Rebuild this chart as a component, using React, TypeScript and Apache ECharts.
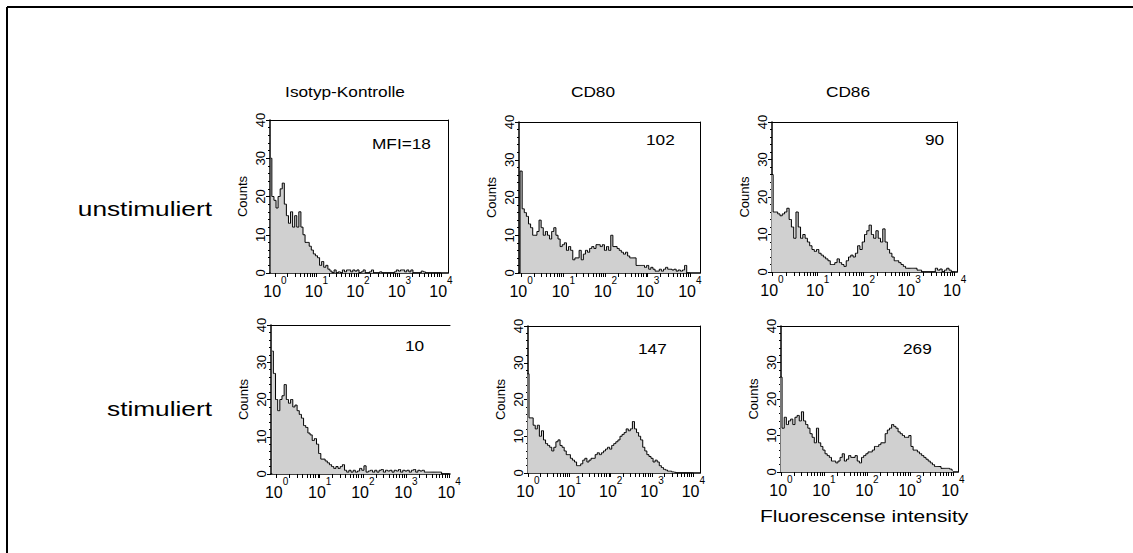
import React, { useEffect, useRef } from 'react';
import * as echarts from 'echarts';

// channel layout: log10 intensity of first bin and bin width (decades)
const binStart = -0.1;
const binStep = 0.05;

// Counts per channel (first value at log10 = -0.1)
const isoUnstim = [
  30, 20, 19, 17, 20, 22, 23.5, 18, 15, 13, 16, 12, 15, 12, 16, 12, 10, 8, 8, 7,
  6, 5, 4.5, 4, 2, 3, 1.5, 2, 1, 0.5, 0, 0.8, 0, 0.3, 0, 0.8, 0.3, 0.8, 0.8, 0.3,
  0.8, 0.5, 0.8, 0, 0.3, 0.8, 0, 0, 0.3, 0.8, 0, 0, 0, 0.3, 0, 0, 0, 0, 0, 0,
  0.3, 0.8, 0.5, 0.8, 0.8, 0.3, 0.8, 0.3, 0.8, 0, 0, 0, 0, 0.5, 0.3, 0, 0, 0, 0, 0,
  0, 0, 0,
];
const cd80Unstim = [
  0, 0, 27, 17, 16, 15, 13, 12, 10, 10, 11, 14, 12, 10, 11, 10, 9, 11, 12, 10,
  9, 7, 7.5, 8, 6, 7, 6, 3.5, 4, 4, 6, 3.5, 5, 6, 5.5, 6.5, 7, 6.5, 7.5, 7.5,
  7, 7.5, 6, 7, 6, 10, 7, 7, 6.5, 6, 5.5, 5, 5.5, 4.5, 4, 4, 4, 2, 2, 2,
  2, 1.5, 2, 1, 1.5, 1, 0.5, 0.5, 1, 0.5, 1, 1.5, 1, 1, 0.8, 1, 0.5, 0.8, 0.5, 0.8,
  2, 0, 0,
];
const cd86Unstim = [
  0, 0, 26, 16, 16, 15.5, 15, 15.5, 16, 17, 14, 12, 9, 16, 12, 9, 10, 9, 8, 7,
  6, 5.5, 6, 5, 4.5, 4, 3.5, 3, 2, 2, 2.5, 3.5, 2.5, 2, 1.5, 3, 4, 4.5, 4, 5,
  7, 6, 8, 10, 11, 12.5, 10, 9, 11, 9, 8, 11.5, 8, 6, 5, 4, 3, 3, 2.5, 2,
  1.5, 1, 1, 1, 1, 1, 0.5, 0.5, 0, 0, 0, 0, 0, 0, 1, 0.5, 0.8, 0, 0.5, 1,
  0.5, 0, 0,
];
const isoStim = [
  33, 27, 20, 17, 20, 21, 24, 20, 19, 20, 18, 18.5, 17, 16, 15, 13, 12.5, 11, 10.5, 9,
  9.5, 8, 5.5, 4, 4, 3.5, 3, 2.5, 2, 1.5, 2, 1.5, 2, 2.5, 1, 0.5, 1, 0.5, 1, 0.5,
  0.8, 1.5, 1, 2.2, 0.5, 0.8, 1, 0.5, 1, 0.5, 1, 1.2, 0.5, 1, 0.8, 1, 0.5, 1, 0.8, 1.2,
  0.5, 1, 0.8, 1, 0.5, 1, 1.2, 0.5, 1, 0.8, 1, 0.5, 0.5, 0.5, 0.5, 0.5, 0.5, 0.5, 0.5, 0,
  0, 0, 0,
];
const cd80Stim = [
  0, 0, 27, 15, 15, 13, 12, 13, 10, 11.5, 9, 8, 7.5, 7, 6, 7, 8.5, 9, 7.5, 7,
  6, 5, 5, 4, 3.5, 3, 2, 2, 2.5, 3.5, 4, 3, 3.5, 4, 4, 5, 5.5, 5, 5.5, 6,
  6.5, 7, 6.5, 7.5, 8, 8.5, 9, 10, 10.5, 11, 12, 11.5, 12, 14, 12, 11, 10, 9, 7, 6,
  5, 4.5, 4, 3, 3.5, 3, 2, 1.5, 1, 0.8, 0.5, 0.5, 0.3, 0.2, 0, 0, 0, 0, 0, 0,
  0, 0, 0,
];
const cd86Stim = [
  0, 0, 26, 12, 15, 13, 14, 14.5, 13, 15, 15.5, 14, 16.5, 14, 13, 12, 10.5, 9.5, 8, 12,
  8, 7, 6, 5, 4.5, 4, 3, 3, 2.5, 3, 4, 5, 3, 3.5, 4.5, 4, 4, 4.5, 3, 2.5,
  4, 4.5, 5, 5.5, 5.5, 6, 7, 7, 7.5, 8, 8, 10.5, 11.5, 12, 13, 12.5, 12, 11, 10.5, 10,
  9.5, 9.5, 10, 7, 6, 6, 5.5, 5, 4.5, 4, 3.5, 3, 2.5, 2, 1.5, 1.5, 1.5, 1, 1, 1,
  1, 0.8, 0.5,
];

const columnTitles = ['Isotyp-Kontrolle', 'CD80', 'CD86'];
const rowLabels = ['unstimuliert', 'stimuliert'];
const mfiLabels = ['MFI=18', '102', '90', '10', '147', '269'];
const decadeExponents = [0, 1, 2, 3, 4];
const yAxisName = 'Counts';
const xAxisTitle = 'Fluorescense intensity';

const FONT = '"Liberation Sans", Arial, Helvetica, sans-serif';

const panels = [
  { data: isoUnstim, left: 270, top: 120, width: 178, height: 153, min: -0.12, max: 4.17 },
  { data: cd80Unstim, left: 519, top: 122, width: 181, height: 151, min: -0.05, max: 4.24 },
  { data: cd86Unstim, left: 772, top: 122, width: 185, height: 150, min: 0, max: 4.05 },
  { data: isoStim, left: 271, top: 325, width: 179, height: 149, min: -0.13, max: 4.02 },
  { data: cd80Stim, left: 528, top: 326, width: 172, height: 147, min: 0, max: 4.16 },
  { data: cd86Stim, left: 781, top: 326, width: 177, height: 146, min: 0, max: 4.12 },
];

const mfiPos = [
  { x: 372, y: 143.5 },
  { x: 646, y: 139 },
  { x: 925, y: 139 },
  { x: 405, y: 345 },
  { x: 638, y: 348.5 },
  { x: 903, y: 348.5 },
];

export default function App() {
  const ref = useRef<HTMLDivElement>(null);

  useEffect(() => {
    if (!ref.current) return;
    const chart = echarts.init(ref.current, undefined, { renderer: 'svg' });

    const logTicks: number[] = [];
    for (let n = 0; n < 4; n++) {
      for (let k = 1; k <= 9; k++) logTicks.push(Math.log10(k * Math.pow(10, n)));
    }
    logTicks.push(4);

    const grid: any[] = [];
    const xAxis: any[] = [];
    const yAxis: any[] = [];
    const series: any[] = [];

    panels.forEach((p, i) => {
      grid.push({ left: p.left, top: p.top, width: p.width, height: p.height, containLabel: false });
      xAxis.push({
        type: 'value',
        gridIndex: i,
        min: p.min,
        max: p.max,
        position: 'bottom',
        axisLine: { show: true, onZero: false, lineStyle: { color: '#000', width: 1.5 } },
        axisTick: { show: true, customValues: logTicks, length: 4, lineStyle: { color: '#000', width: 1 } },
        axisLabel: {
          customValues: decadeExponents,
          margin: 2,
          color: '#000',
          formatter: (v: number) => `{b|10}{s|${Math.round(v)}}`,
          rich: {
            b: { fontSize: 16, fontFamily: FONT, color: '#000', lineHeight: 24, verticalAlign: 'bottom' },
            s: { fontSize: 10, fontFamily: FONT, color: '#000', lineHeight: 10, verticalAlign: 'top' },
          },
        },
        splitLine: { show: false },
      });
      xAxis.push({
        type: 'value',
        gridIndex: i,
        min: 0,
        max: 1,
        position: 'top',
        axisLine: { show: true, onZero: false, lineStyle: { color: '#000', width: 1 } },
        axisTick: { show: false },
        axisLabel: { show: false },
        splitLine: { show: false },
      });
      yAxis.push({
        type: 'value',
        gridIndex: i,
        min: 0,
        max: 40,
        interval: 10,
        position: 'left',
        name: yAxisName,
        nameLocation: 'middle',
        nameGap: 21,
        nameTextStyle: { fontSize: 13, color: '#000', fontFamily: FONT },
        axisLine: { show: true, onZero: false, lineStyle: { color: '#000', width: 1.5 } },
        axisTick: { show: true, length: 4, lineStyle: { color: '#000' } },
        minorTick: { show: true, splitNumber: 5, length: 2, lineStyle: { color: '#000' } },
        axisLabel: { rotate: 90, fontSize: 13, fontFamily: FONT, color: '#000', margin: 3 },
        splitLine: { show: false },
      });
      yAxis.push({
        type: 'value',
        gridIndex: i,
        min: 0,
        max: 1,
        position: 'right',
        axisLine: { show: i !== 3, onZero: false, lineStyle: { color: '#000', width: 1 } },
        axisTick: { show: false },
        axisLabel: { show: false },
        splitLine: { show: false },
      });
      series.push({
        type: 'line',
        xAxisIndex: 2 * i,
        yAxisIndex: 2 * i,
        data: p.data.map((v, j) => [binStart + j * binStep, v]),
        step: 'middle',
        symbol: 'none',
        clip: true,
        lineStyle: { color: '#000', width: 1 },
        areaStyle: { color: '#d0d0d0', opacity: 1 },
        silent: true,
      });
    });

    const graphic: any[] = [
      { type: 'line', shape: { x1: 7, y1: 7, x2: 1133, y2: 7 }, style: { stroke: '#000', lineWidth: 2 } },
      { type: 'line', shape: { x1: 7, y1: 7, x2: 7, y2: 553 }, style: { stroke: '#000', lineWidth: 2 } },
    ];
    const titleX = [345, 593, 848];
    columnTitles.forEach((t, i) => {
      graphic.push({
        type: 'text', x: titleX[i], y: 91, scaleX: 1.15,
        style: { text: t, font: `15px ${FONT}`, fill: '#000', align: 'center', verticalAlign: 'middle' },
      });
    });
    const rowY = [208, 408];
    rowLabels.forEach((t, i) => {
      graphic.push({
        type: 'text', x: 212, y: rowY[i], scaleX: 1.25,
        style: { text: t, font: `21px ${FONT}`, fill: '#000', align: 'right', verticalAlign: 'middle' },
      });
    });
    mfiLabels.forEach((t, i) => {
      graphic.push({
        type: 'text', x: mfiPos[i].x, y: mfiPos[i].y, scaleX: 1.15,
        style: { text: t, font: `15px ${FONT}`, fill: '#000', align: 'left', verticalAlign: 'middle' },
      });
    });
    graphic.push({
      type: 'text', x: 760, y: 516.5, scaleX: 1.31,
      style: { text: xAxisTitle, font: `16px ${FONT}`, fill: '#000', align: 'left', verticalAlign: 'middle' },
    });

    chart.setOption({
      animation: false,
      backgroundColor: '#fff',
      grid,
      xAxis,
      yAxis,
      series,
      graphic,
    });

    return () => chart.dispose();
  }, []);

  return (
    <div
      ref={ref}
      style={{ position: 'fixed', left: 0, top: 0, width: 1133, height: 553, background: '#fff' }}
    />
  );
}
